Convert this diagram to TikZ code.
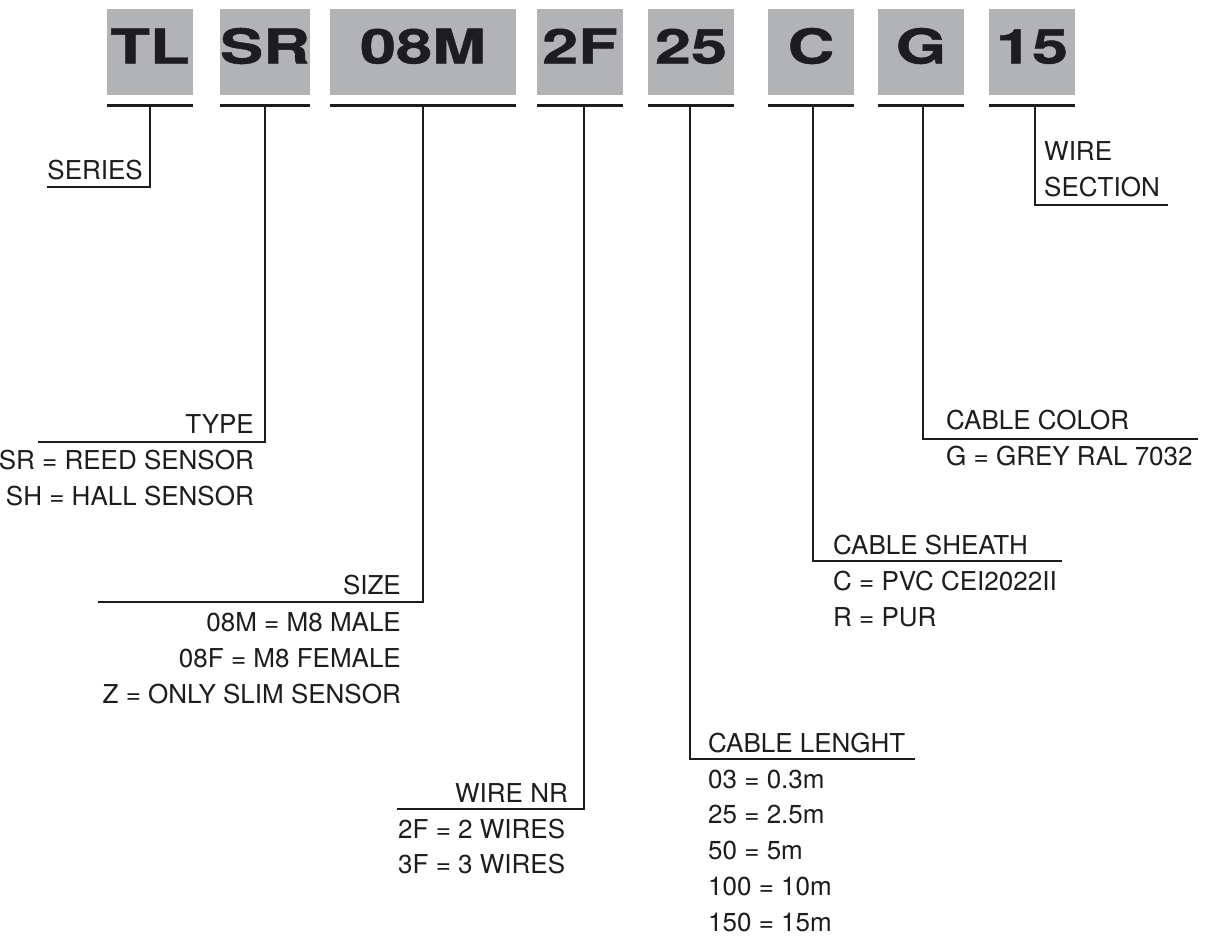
\documentclass[tikz,border=0pt]{standalone}
\usepackage{fontspec}
\setmainfont{TeX Gyre Heros}
\newfontfamily\codefont{TeX Gyre Heros}[BoldFeatures={FakeStretch=1.35,FakeBold=1}]
\usetikzlibrary{positioning}
\definecolor{codegrey}{RGB}{178,179,181}
\definecolor{ink}{RGB}{30,28,32}

\begin{document}
\begin{tikzpicture}[
x=1pt, y=-1pt,
codebox/.style={rectangle, fill=codegrey, minimum width=86pt, minimum height=86pt, inner sep=0pt,
  text height=35pt, text depth=12pt, text=ink, font=\codefont\bfseries\fontsize{48}{48}\selectfont},
bar/.style={draw=ink, line width=3pt},
leader/.style={draw=ink, line width=2.4pt},
lbl/.style={inner sep=0pt, text=ink, font=\fontsize{26}{30}\selectfont},
]
\useasboundingbox (0,0) rectangle (1208,938);

% code boxes
\node[codebox]                       (tl)      at (150,52)  {TL};
\node[codebox]                       (sr)      at (265,52)  {SR};
\node[codebox, minimum width=186pt]  (size)    at (423,52)  {08M};
\node[codebox]                       (wires)   at (580,52)  {2F};
\node[codebox]                       (length)  at (691,52)  {25};
\node[codebox]                       (sheath)  at (811,52)  {C};
\node[codebox]                       (colour)  at (921,52)  {G};
\node[codebox]                       (section) at (1032,52) {15};

\foreach \b in {tl,sr,size,wires,length,sheath,colour,section}
  \draw[bar] ([yshift=-10pt]\b.south west) -- ([yshift=-10pt]\b.south east);

% leader ends
\coordinate (series-end)  at (47,187);
\coordinate (type-end)    at (38,442);
\coordinate (size-end)    at (98,602);
\coordinate (wirenr-end)  at (397,809);
\coordinate (length-end)  at (915,759);
\coordinate (sheath-end)  at (1062,561);
\coordinate (colour-end)  at (1198,439);
\coordinate (section-end) at (1168,205);

\draw[leader] ([yshift=-10pt]tl.south) |- (series-end);
\draw[leader] ([yshift=-10pt]sr.south) |- (type-end);
\draw[leader] ([yshift=-10pt]size.south) |- (size-end);
\draw[leader] ([xshift=4pt,yshift=-10pt]wires.south) |- (wirenr-end);
\draw[leader] ([xshift=-1pt,yshift=-10pt]length.south) |- (length-end);
\draw[leader] ([xshift=2pt,yshift=-10pt]sheath.south) |- (sheath-end);
\draw[leader] ([xshift=2pt,yshift=-10pt]colour.south) |- (colour-end);
\draw[leader] ([xshift=3pt,yshift=-10pt]section.south) |- (section-end);

% labels
\node[lbl, anchor=base east] (series)   at (143,179) {SERIES};

\node[lbl, anchor=base east] (type)     at (254,433) {TYPE};
\node[lbl, anchor=base east] (type-sr)  at (254,469) {SR = REED SENSOR};
\node[lbl, anchor=base east] (type-sh)  at (254,505) {SH = HALL SENSOR};

\node[lbl, anchor=base east] (size-lbl) at (401,594) {SIZE};
\node[lbl, anchor=base east] (size-m)   at (401,631) {08M = M8 MALE};
\node[lbl, anchor=base east] (size-f)   at (401,667) {08F = M8 FEMALE};
\node[lbl, anchor=base east] (size-z)   at (401,703) {Z = ONLY SLIM SENSOR};

\node[lbl, anchor=base east] (wirenr)   at (568,802) {WIRE NR};
\node[lbl, anchor=base west] (wires-2)  at (398,838) {2F = 2 WIRES};
\node[lbl, anchor=base west] (wires-3)  at (398,873) {3F = 3 WIRES};

\node[lbl, anchor=base west] (len-lbl)  at (708,752) {CABLE LENGHT};
\node[lbl, anchor=base west] (len-03)   at (708,788) {03 = 0.3m};
\node[lbl, anchor=base west] (len-25)   at (708,823) {25 = 2.5m};
\node[lbl, anchor=base west] (len-50)   at (708,859) {50 = 5m};
\node[lbl, anchor=base west] (len-100)  at (708,895) {100 = 10m};
\node[lbl, anchor=base west] (len-150)  at (708,931) {150 = 15m};

\node[lbl, anchor=base west] (sheath-lbl) at (833,554) {CABLE SHEATH};
\node[lbl, anchor=base west] (sheath-c)   at (833,590) {C = PVC CEI2022II};
\node[lbl, anchor=base west] (sheath-r)   at (833,626) {R = PUR};

\node[lbl, anchor=base west] (colour-lbl) at (946,429) {CABLE COLOR};
\node[lbl, anchor=base west] (colour-g)   at (946,465) {G = GREY RAL 7032};

\node[lbl, anchor=base west] (wire-sec1)  at (1044,160) {WIRE};
\node[lbl, anchor=base west] (wire-sec2)  at (1044,196) {SECTION};

\end{tikzpicture}
\end{document}
